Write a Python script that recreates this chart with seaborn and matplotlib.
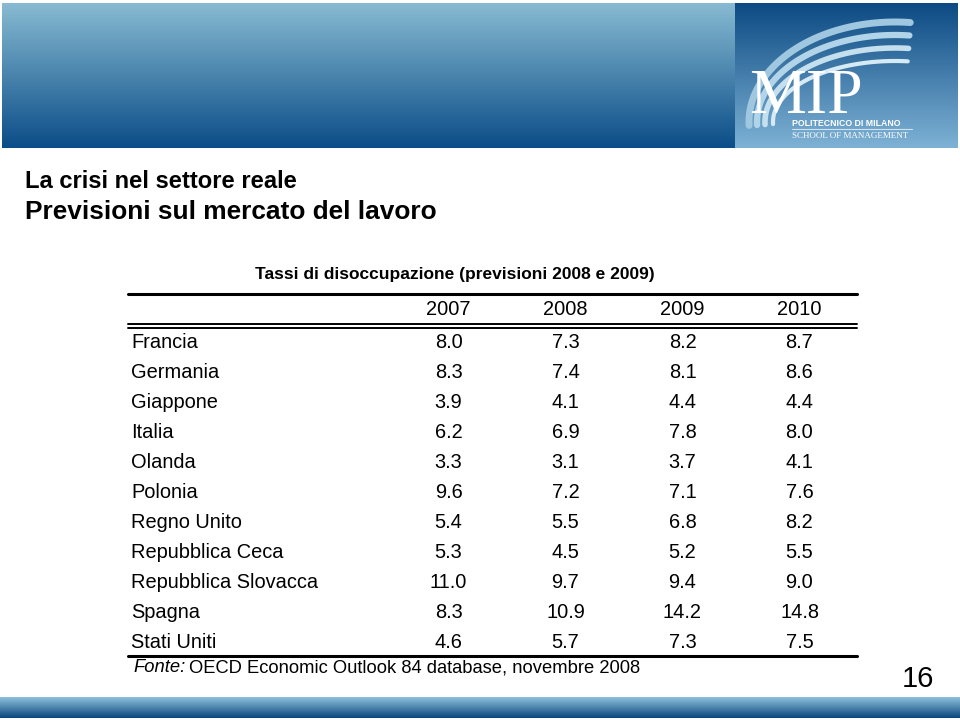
import numpy as np
import pandas as pd
import seaborn as sns
import matplotlib.pyplot as plt
from matplotlib.colors import ListedColormap, to_rgb

countries = ['Francia', 'Germania', 'Giappone', 'Italia', 'Olanda', 'Polonia',
             'Regno Unito', 'Repubblica Ceca', 'Repubblica Slovacca', 'Spagna',
             'Stati Uniti']
years = ['2007', '2008', '2009', '2010']
rate_2007 = [8.0, 8.3, 3.9, 6.2, 3.3, 9.6, 5.4, 5.3, 11.0, 8.3, 4.6]
rate_2008 = [7.3, 7.4, 4.1, 6.9, 3.1, 7.2, 5.5, 4.5, 9.7, 10.9, 5.7]
rate_2009 = [8.2, 8.1, 4.4, 7.8, 3.7, 7.1, 6.8, 5.2, 9.4, 14.2, 7.3]
rate_2010 = [8.7, 8.6, 4.4, 8.0, 4.1, 7.6, 8.2, 5.5, 9.0, 14.8, 7.5]

title1 = 'La crisi nel settore reale'
title2 = 'Previsioni sul mercato del lavoro'
subtitle = 'Tassi di disoccupazione (previsioni 2008 e 2009)'
source = 'OECD Economic Outlook 84 database, novembre 2008'
page = '16'

sns.set_theme(style='white')
plt.rcParams['font.family'] = ['Liberation Sans', 'DejaVu Sans']
plt.rcParams['text.color'] = 'black'
plt.rcParams['ytick.color'] = 'black'
plt.rcParams['xtick.color'] = 'black'

df = pd.DataFrame({'2007': rate_2007, '2008': rate_2008,
                   '2009': rate_2009, '2010': rate_2010}, index=countries)


def vgrad(top, bottom, n=200):
    t = np.linspace(0, 1, n)[:, None]
    a, b = np.array(to_rgb(top)), np.array(to_rgb(bottom))
    return (a + (b - a) * t)[:, None, :].repeat(2, axis=1)


fig = plt.figure(figsize=(9.6, 7.2), dpi=100)

# slide background in pixel coordinates
bg = fig.add_axes([0, 0, 1, 1])
bg.set_xlim(0, 960)
bg.set_ylim(720, 0)
bg.axis('off')

# header banner + logo box
bg.imshow(vgrad('#88bbd2', '#0b4d88'), extent=(2, 735, 148, 3), aspect='auto')
bg.imshow(vgrad('#0c4a83', '#7eb2d5'), extent=(735, 958, 148, 3), aspect='auto')
# bottom band
bg.imshow(vgrad('#8ec2db', '#0a467e'), extent=(0, 960, 718, 697), aspect='auto')

# logo swoosh
t = np.linspace(np.radians(182), np.radians(84), 100)
for k, (lw, col) in enumerate([(5, '#9fc7e0'), (4.5, '#b2d4e8'), (4, '#c4e0ef'), (3, '#d6eaf5')]):
    a, b = 146 - k * 8, 100 - k * 13
    bg.plot(895 + a * np.cos(t), 122 - b * np.sin(t), color=col, lw=lw,
            solid_capstyle='round')
bg.text(749, 113, 'MIP', family='Liberation Serif', fontsize=46, color='white',
        ha='left', va='baseline')
bg.text(792, 123, 'POLITECNICO DI MILANO', fontsize=6.3, fontweight='bold',
        color='white', ha='left', va='center')
bg.plot([792, 912], [129, 129], color='#d0e2ef', lw=0.8)
bg.text(792, 136, 'SCHOOL OF MANAGEMENT', family='Liberation Serif', fontsize=6.5,
        color='white', ha='left', va='center')

# titles
bg.text(25, 182, title1, fontsize=17.1, fontweight='bold', ha='left', va='center')
bg.text(25, 212, title2, fontsize=18.9, fontweight='bold', ha='left', va='center')
bg.text(455, 275, subtitle, fontsize=12.5, fontweight='bold', ha='center', va='center')

# table rules
bg.plot([128, 857], [294, 294], color='black', lw=2.2)
bg.plot([128, 857], [323.5, 323.5], color='black', lw=1.4)
bg.plot([128, 857], [327.5, 327.5], color='black', lw=1.4)
bg.plot([128, 857], [656, 656], color='black', lw=2.2)

# source and page number
bg.text(133, 668, 'Fonte:', fontsize=13.2, fontstyle='italic', ha='left', va='center')
bg.text(189, 668, source, fontsize=13.2, ha='left', va='center')
bg.text(918, 679, page, fontsize=21, ha='center', va='center')

# table body
ax = fig.add_axes([390 / 960, 63 / 720, 468 / 960, 330 / 720])
sns.heatmap(df, ax=ax, annot=True, fmt='.1f', cbar=False,
            cmap=ListedColormap([(1, 1, 1, 0)]),
            annot_kws=dict(fontsize=14.4, color='black'))
ax.patch.set_alpha(0)
ax.set_xticks([])
for i, y in enumerate(years):
    ax.text(i + 0.5, -0.6, y, fontsize=14.4, ha='center', va='center', clip_on=False)
ax.tick_params(axis='y', length=0, pad=186.5, labelsize=14.4, labelcolor='black')
plt.setp(ax.get_yticklabels(), rotation=0, ha='left')
ax.set_xlabel('')
ax.set_ylabel('')

fig.savefig('out.png', dpi=100)
